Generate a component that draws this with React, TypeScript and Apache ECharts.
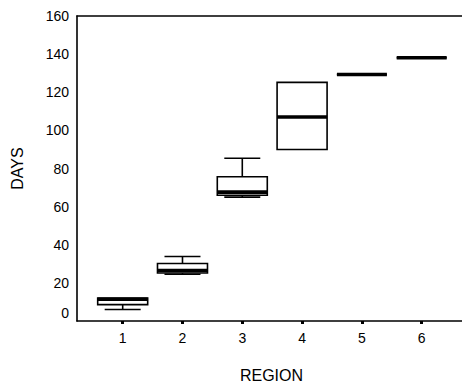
import React, { useEffect, useRef } from "react";
import * as echarts from "echarts";

// Box plot of DAYS by REGION
const regions = [1, 2, 3, 4, 5, 6];
const minVals = [6, 24.5, 65, 90, 129.3, 138.1];
const q1Vals = [8.6, 25.2, 66, 90, 129.3, 138.1];
const medianVals = [11.4, 26.5, 67.6, 107, 129.3, 138.1];
const q3Vals = [12, 30.2, 75.7, 125.2, 129.3, 138.1];
const maxVals = [12, 33.8, 85.4, 125.2, 129.3, 138.1];
const yTicks = [0, 20, 40, 60, 80, 100, 120, 140, 160];

const FONT = "Liberation Sans, Arial, sans-serif";
const X_MIN = 0.236;
const X_MAX = 6.741;

const frameLine = () => ({
  show: true,
  onZero: false,
  lineStyle: { color: "#000", width: 1.6 },
});

export default function App() {
  const ref = useRef<HTMLDivElement>(null);

  useEffect(() => {
    if (!ref.current) return;
    const chart = echarts.init(ref.current, null, { renderer: "svg" });

    const data = regions.map((r, i) => [
      r,
      minVals[i],
      q1Vals[i],
      medianVals[i],
      q3Vals[i],
      maxVals[i],
    ]);

    // Box, whiskers with caps, and a heavy median bar per region
    const renderItem = (params: any, api: any) => {
      const x = api.value(0);
      const vMin = api.value(1);
      const vQ1 = api.value(2);
      const vMed = api.value(3);
      const vQ3 = api.value(4);
      const vMax = api.value(5);
      const px = api.coord([x, 0])[0];
      const y = (v: number) => api.coord([x, v])[1];
      const hw = 25;
      const cw = 18;
      const thin = { stroke: "#000", lineWidth: 1.6 };
      const children: any[] = [];
      if (vMax > vQ3) {
        children.push({
          type: "line",
          shape: { x1: px, y1: y(vQ3), x2: px, y2: y(vMax) },
          style: thin,
        });
        children.push({
          type: "line",
          shape: { x1: px - cw, y1: y(vMax), x2: px + cw, y2: y(vMax) },
          style: thin,
        });
      }
      if (vMin < vQ1) {
        children.push({
          type: "line",
          shape: { x1: px, y1: y(vQ1), x2: px, y2: y(vMin) },
          style: thin,
        });
        children.push({
          type: "line",
          shape: { x1: px - cw, y1: y(vMin), x2: px + cw, y2: y(vMin) },
          style: thin,
        });
      }
      children.push({
        type: "rect",
        shape: {
          x: px - hw,
          y: y(vQ3),
          width: hw * 2,
          height: Math.max(y(vQ1) - y(vQ3), 0),
        },
        style: { fill: "#fff", ...thin },
      });
      children.push({
        type: "line",
        shape: { x1: px - hw, y1: y(vMed), x2: px + hw, y2: y(vMed) },
        style: { stroke: "#000", lineWidth: 3.6 },
      });
      return { type: "group", children };
    };

    chart.setOption({
      animation: false,
      // the frame runs past the right edge of the visible area
      grid: { left: 77, top: 16, right: 14, bottom: 67 },
      xAxis: [
        {
          type: "value",
          min: X_MIN,
          max: X_MAX,
          name: "REGION",
          nameLocation: "middle",
          nameGap: 46,
          nameTextStyle: { fontFamily: FONT, fontSize: 16, color: "#000" },
          axisLine: frameLine(),
          splitLine: { show: false },
          axisTick: {
            show: true,
            customValues: regions,
            length: 3,
            lineStyle: { color: "#000", width: 3 },
          },
          axisLabel: {
            customValues: regions,
            margin: 10,
            fontFamily: FONT,
            fontSize: 14,
            color: "#000",
          },
        },
        {
          type: "value",
          position: "top",
          min: X_MIN,
          max: X_MAX,
          axisLine: frameLine(),
          axisTick: { show: false },
          axisLabel: { show: false },
          splitLine: { show: false },
        },
      ],
      yAxis: {
        type: "value",
        min: 0,
        max: 160,
        name: "DAYS",
        nameLocation: "middle",
        nameGap: 52,
        nameTextStyle: { fontFamily: FONT, fontSize: 16, color: "#000" },
        axisLine: frameLine(),
        axisTick: { show: false },
        splitLine: { show: false },
        axisLabel: {
          customValues: yTicks,
          margin: 8,
          fontFamily: FONT,
          fontSize: 14,
          color: "#000",
          formatter: (v: number) => (v === 0 ? "{z|0}" : String(v)),
          rich: {
            z: {
              fontFamily: FONT,
              fontSize: 14,
              color: "#000",
              padding: [0, 0, 16, 0],
            },
          },
        },
      },
      series: [
        {
          type: "custom",
          renderItem,
          encode: { x: 0, y: [1, 2, 3, 4, 5] },
          data,
          clip: false,
        },
      ],
    });

    return () => chart.dispose();
  }, []);

  return (
    <div
      style={{
        position: "absolute",
        left: 0,
        top: 0,
        width: 462,
        height: 388,
        overflow: "hidden",
      }}
    >
      <div ref={ref} style={{ width: 480, height: 388 }} />
    </div>
  );
}
